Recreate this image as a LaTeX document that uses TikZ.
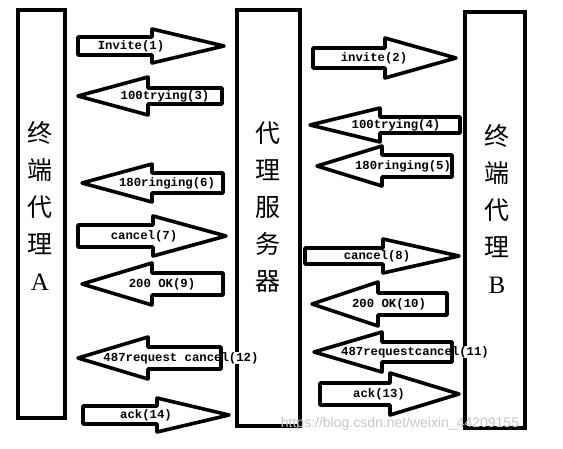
\documentclass[tikz,border=0pt]{standalone}
\usepackage{fontspec}
\setmainfont{Liberation Serif}
\setmonofont{Liberation Mono}
\newfontfamily\cjk{Noto Sans CJK SC}
\newfontfamily\wmfont{Liberation Sans}
\tikzset{
  boxline/.style={draw=black,line width=3.6pt},
  arrowline/.style={draw=black,line width=3.6pt,line join=round},
  lbl/.style={font=\ttfamily\bfseries\fontsize{12.3}{12.3}\selectfont,fill=white,inner sep=0.4pt},
  vtext/.style={align=center,font=\cjk\fontsize{25}{37}\selectfont,inner sep=0pt},
}
% #1 name, #2 tail x, #3 tip x, #4 centre y, #5 shaft half height,
% #6 head base x, #7 head half height, #8 label x, #9 label
\newcommand\blockarrow[9]{%
  \path[fill=white] (#2,#4-#5) -- (#6,#4-#5) -- (#6,#4-#7) -- (#3,#4) -- (#6,#4+#7) -- (#6,#4+#5) -- (#2,#4+#5) -- cycle;
  \node[lbl] (#1) at (#8,#4) {#9};
  \draw[arrowline] (#2,#4-#5) -- (#6,#4-#5) -- (#6,#4-#7) -- (#3,#4) -- (#6,#4+#7) -- (#6,#4+#5) -- (#2,#4+#5) -- cycle;
}
\begin{document}
\begin{tikzpicture}[x=1pt,y=-1pt]
\useasboundingbox (0,0) rectangle (563,448);
% boxes
\draw[boxline] (18,10) rectangle (65,418);
\draw[boxline] (237,10) rectangle (300,426);
\draw[boxline] (465,12) rectangle (525,428);
\node[vtext] (boxA) at (40,206) {终\\端\\代\\理\\{\rmfamily A}};
\node[vtext] (boxP) at (268,207) {代\\理\\服\\务\\器};
\node[vtext] (boxB) at (497,209) {终\\端\\代\\理\\{\rmfamily B}};
% arrows
\blockarrow{a1}{78}{224}{46}{9}{152}{17}{131}{Invite(1)}
\blockarrow{a3}{222}{78}{96}{8}{148}{19}{165}{100trying(3)}
\blockarrow{a2}{313}{456}{58}{10}{385}{20}{374}{invite(2)}
\blockarrow{a4}{460}{310}{125}{8}{380}{17}{396}{100trying(4)}
\blockarrow{a5}{452}{317}{166}{11}{382}{20}{403}{180ringing(5)}
\blockarrow{a6}{223}{82}{183}{10}{152}{19}{167}{180ringing(6)}
\blockarrow{a7}{78}{226}{236}{11}{153}{20}{144}{cancel(7)}
\blockarrow{a8}{305}{459}{256}{8}{383}{17}{377}{cancel(8)}
\blockarrow{a9}{223}{82}{284}{11}{152}{21}{162}{200 OK(9)}
\blockarrow{a10}{447}{312}{304}{11}{378}{22}{389}{200 OK(10)}
\blockarrow{a11}{452}{314}{352}{10}{382}{20}{415}{487requestcancel(11)}
\blockarrow{a12}{221}{78}{358}{11}{148}{21}{181}{487request cancel(12)}
\blockarrow{a13}{320}{459}{394}{11}{390}{21}{379}{ack(13)}
\blockarrow{a14}{83}{229}{415}{9}{157}{17}{146}{ack(14)}
% watermark
\node[font=\wmfont\fontsize{14}{14}\selectfont,text=black!22,inner sep=0pt] (wm) at (400,424) {https://blog.csdn.net/weixin\_44209155};
\end{tikzpicture}
\end{document}
